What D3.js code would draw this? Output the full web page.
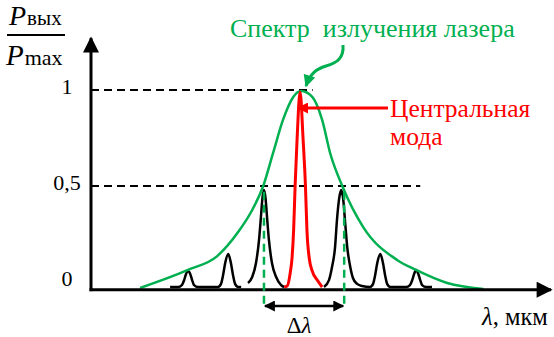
<!DOCTYPE html>
<html>
<head>
<meta charset="UTF-8">
<script src="https://cdn.jsdelivr.net/npm/d3@7"></script>
<title>Спектр излучения лазера</title>
<style>
    body { margin: 0; background: #fff; }
    svg { display: block; }
</style>
</head>
<body>
<script>
// λ in units of mode spacing (0 = central mode), P = Pвых/Pmax
const envelope = [[-4.21,-0.031],[-2.95,0.063],[-2.18,0.135],[-1.63,0.260],[-1.26,0.375],[-0.97,0.5],
    [-0.71,0.672],[-0.45,0.844],[-0.18,0.964],[0.03,0.995],[0.32,0.964],[0.58,0.844],[0.79,0.672],
    [1.11,0.5],[1.66,0.286],[2.55,0.115],[3.05,0.063],[3.87,-0.005],[4.82,-0.036]]

const modesLeft = [[-3.42,-0.026],[-3.21,-0.026],[-3.11,-0.016],[-3.05,0.010],[-3.0,0.042],[-2.95,0.057],
    [-2.89,0.042],[-2.84,0.010],[-2.79,-0.016],[-2.68,-0.026],[-2.16,-0.026],[-2.08,-0.010],[-2.03,0.031],
    [-1.97,0.099],[-1.89,0.146],[-1.82,0.099],[-1.76,0.031],[-1.71,-0.010],[-1.63,-0.026],[-1.55,-0.026]]

const modeHalfLeft = [[-1.37,-0.005],[-1.26,0.026],[-1.16,0.099],[-1.08,0.219],[-1.03,0.339],[-0.99,0.438],
    [-0.95,0.479],[-0.91,0.438],[-0.87,0.339],[-0.82,0.219],[-0.74,0.099],[-0.63,0.026],[-0.5,-0.016],[-0.42,-0.026]]

const centralMode = [[-0.42,-0.026],[-0.34,-0.021],[-0.26,0.047],[-0.21,0.130],[-0.17,0.271],[-0.13,0.505],
    [-0.08,0.740],[0,0.990],[0.08,0.740],[0.14,0.505],[0.18,0.271],[0.24,0.125],[0.32,0.057],[0.45,0.010],[0.58,-0.026]]

const modesRight = [[0.63,-0.026],[0.76,0.010],[0.84,0.078],[0.92,0.182],[0.97,0.323],[1.03,0.438],[1.08,0.479],
    [1.13,0.438],[1.18,0.323],[1.24,0.182],[1.32,0.078],[1.39,0.021],[1.5,-0.010],[1.63,-0.021],[1.84,-0.026],
    [1.92,-0.010],[1.97,0.031],[2.03,0.099],[2.11,0.146],[2.18,0.099],[2.24,0.031],[2.29,-0.010],[2.37,-0.026],
    [2.79,-0.026],[2.89,-0.016],[2.95,0.010],[3.0,0.042],[3.05,0.063],[3.11,0.042],[3.16,0.010],[3.21,-0.016],
    [3.32,-0.026],[3.47,-0.026]]

const yTicks = [0, 0.5, 1]
const yTickLabels = ["0", "0,5", "1"]
const guides = [[1, 0.33], [0.5, 3.16]]   // [P, λ where the dashed line ends]
const halfWidth = [-0.95, 1.16]           // λ at P = 0.5 (Δλ)

const green = "#00b050"
const red = "#ff0000"
const serif = '"Liberation Serif"'

let width = 554
let height = 337
let svg = d3.select("body").append("svg")
    .attr("width", width)
    .attr("height", height)

let x = d3.scaleLinear().domain([-5.5, 6.6]).range([91, 551])
let y = d3.scaleLinear().domain([0, 1]).range([282, 90])

let defs = svg.append("defs")
function marker(id, color, w, h) {
    defs.append("marker")
        .attr("id", id)
        .attr("viewBox", "0 0 10 10")
        .attr("refX", 9).attr("refY", 5)
        .attr("markerUnits", "userSpaceOnUse")
        .attr("markerWidth", w).attr("markerHeight", h)
        .attr("orient", "auto-start-reverse")
        .append("path")
        .attr("d", "M0,0L10,5L0,10z")
        .attr("fill", color)
}
marker("arrBlack", "#000", 12, 11)
marker("arrRed", red, 13, 11)
marker("arrGreen", green, 13, 12)
marker("axisArr", "#000", 20, 16)

let line = d3.line()
    .x(d => x(d[0]))
    .y(d => y(d[1]))
    .curve(d3.curveMonotoneX)

// dashed guide lines
svg.selectAll(".guide").data(guides).enter().append("line")
    .attr("x1", x(-5.5)).attr("x2", d => x(d[1]))
    .attr("y1", d => y(d[0])).attr("y2", d => y(d[0]))
    .attr("stroke", "#000").attr("stroke-width", 2)
    .attr("stroke-dasharray", "8,5")

// modes
for (let m of [modesLeft, modeHalfLeft, modesRight]) {
    svg.append("path").attr("d", line(m))
        .attr("fill", "none").attr("stroke", "#000").attr("stroke-width", 2.5)
}

// envelope
svg.append("path").attr("d", line(envelope))
    .attr("fill", "none").attr("stroke", green).attr("stroke-width", 2.5)

svg.append("path").attr("d", line(centralMode))
    .attr("fill", "none").attr("stroke", red).attr("stroke-width", 3)

// axes
let x0 = x(-5.5)
let yAxisY = y(-0.04)
svg.append("line")
    .attr("x1", x0).attr("x2", x0)
    .attr("y1", yAxisY + 1.5).attr("y2", y(1.27))
    .attr("stroke", "#000").attr("stroke-width", 3)
    .attr("marker-end", "url(#axisArr)")
svg.append("line")
    .attr("x1", x0 - 1.5).attr("x2", x(6.6))
    .attr("y1", yAxisY).attr("y2", yAxisY)
    .attr("stroke", "#000").attr("stroke-width", 3)
    .attr("marker-end", "url(#axisArr)")

let yAxis = svg.append("g")
    .attr("transform", `translate(${x0},0)`)
    .call(d3.axisLeft(y).tickValues(yTicks)
        .tickFormat((d, i) => yTickLabels[i]).tickSize(0))
yAxis.attr("font-size", 22)
yAxis.select(".domain").remove()
yAxis.selectAll("text")
    .attr("x", -24).attr("dy", "0.18em")
    .attr("text-anchor", "middle")
    .attr("fill", "#000")

// Δλ markers
svg.selectAll(".hw").data(halfWidth).enter().append("line")
    .attr("x1", d => x(d)).attr("x2", d => x(d))
    .attr("y1", y(0.47)).attr("y2", 304)
    .attr("stroke", green).attr("stroke-width", 2.5)
    .attr("stroke-dasharray", "8,5")
svg.append("line")
    .attr("x1", x(halfWidth[0]) + 1).attr("x2", x(halfWidth[1]) - 1)
    .attr("y1", 306).attr("y2", 306)
    .attr("stroke", "#000").attr("stroke-width", 2.5)
    .attr("marker-start", "url(#arrBlack)")
    .attr("marker-end", "url(#arrBlack)")
let dl = svg.append("text")
    .attr("x", (x(halfWidth[0]) + x(halfWidth[1])) / 2 - 5).attr("y", 333)
    .attr("text-anchor", "middle").attr("font-size", 23)
dl.append("tspan").text("Δ")
dl.append("tspan").style("font-style", "italic").text("λ")

// x label
let xl = svg.append("text").attr("x", 482).attr("y", 325).attr("font-size", 24.5)
xl.append("tspan").style("font-style", "italic").text("λ")
xl.append("tspan").text(", мкм")

// y label
let yl1 = svg.append("text").attr("x", 9).attr("y", 25)
yl1.append("tspan").style("font-style", "italic").attr("font-size", 28).text("P")
yl1.append("tspan").attr("font-size", 21).attr("dx", 1).text("вых")
svg.append("line").attr("x1", 7).attr("x2", 65).attr("y1", 35).attr("y2", 35)
    .attr("stroke", "#000").attr("stroke-width", 2)
let yl2 = svg.append("text").attr("x", 6).attr("y", 65)
yl2.append("tspan").style("font-style", "italic").attr("font-size", 29).text("P")
yl2.append("tspan").attr("font-size", 22).attr("dx", 1).text("max")

// annotations
svg.append("text").attr("x", 230).attr("y", 37)
    .attr("font-size", 26).attr("fill", green)
    .style("white-space", "pre")
    .text("Спектр  излучения лазера")
svg.append("path")
    .attr("d", "M343,45 C344,58 337,63 326,66 C316,69 310,74 306,86")
    .attr("fill", "none").attr("stroke", green).attr("stroke-width", 3)
    .attr("marker-end", "url(#arrGreen)")

svg.append("line")
    .attr("x1", 388).attr("x2", x(0) - 2)
    .attr("y1", 108).attr("y2", 108)
    .attr("stroke", red).attr("stroke-width", 3)
    .attr("marker-end", "url(#arrRed)")
svg.append("text").attr("x", 390).attr("y", 117)
    .attr("font-size", 25.5).attr("fill", red).text("Центральная")
svg.append("text").attr("x", 390).attr("y", 145)
    .attr("font-size", 25.5).attr("fill", red).text("мода")

svg.selectAll("text").style("font-family", serif)
</script>
</body>
</html>
